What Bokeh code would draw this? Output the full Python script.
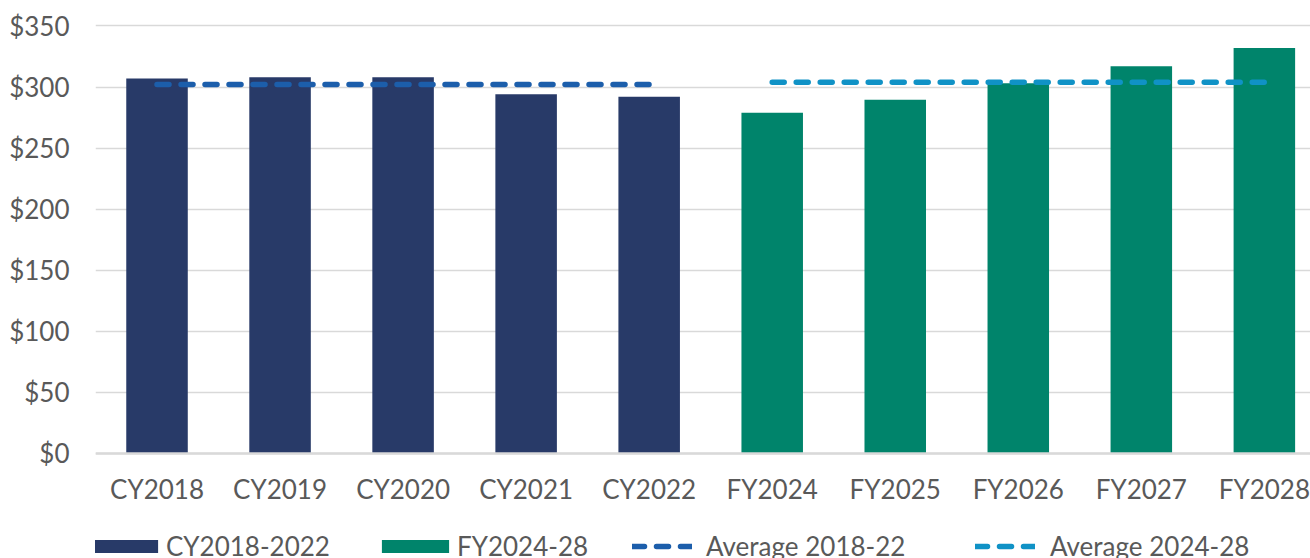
from bokeh.plotting import figure
from bokeh.models import FixedTicker, Legend, LegendItem, Range1d, Span
from bokeh.core.properties import value
from bokeh.embed import file_html
from bokeh.resources import INLINE

categories = ["CY2018", "CY2019", "CY2020", "CY2021", "CY2022",
              "FY2024", "FY2025", "FY2026", "FY2027", "FY2028"]
cy_categories = categories[:5]
fy_categories = categories[5:]
cy_values = [307, 308, 308, 294, 292]
fy_values = [279, 289.5, 303, 317, 332]
avg_2018_22 = 302
avg_2024_28 = 304
y_ticks = [0, 50, 100, 150, 200, 250, 300, 350]
y_tick_labels = ["$0", "$50", "$100", "$150", "$200", "$250", "$300", "$350"]

FONT = "Lato"
TXT = "#595959"
NAVY = "#283a68"
GREEN = "#00846b"
BLUE1 = "#1c5eab"
BLUE2 = "#1092c6"

p = figure(width=1310, height=558, output_backend="svg", toolbar_location=None,
           x_range=Range1d(-0.5, 9.375), y_range=Range1d(-86, 352),
           x_axis_location=None,
           min_border_left=95, min_border_right=0, min_border_top=23, min_border_bottom=0)
p.outline_line_color = None
p.background_fill_color = "white"

idx = {c: i for i, c in enumerate(categories)}
cy_x = [idx[c] for c in cy_categories]
fy_x = [idx[c] for c in fy_categories]

r_cy = p.vbar(x=cy_x, top=cy_values, width=0.5, fill_color=NAVY, line_color=None)
r_fy = p.vbar(x=fy_x, top=fy_values, width=0.5, fill_color=GREEN, line_color=None)

r_a1 = p.line(x=[cy_x[0], cy_x[-1]], y=[avg_2018_22, avg_2018_22], line_color=BLUE1,
              line_width=5.5, line_dash="12 12", line_cap="round")
r_a2 = p.line(x=[fy_x[0], fy_x[-1]], y=[avg_2024_28, avg_2024_28], line_color=BLUE2,
              line_width=5.5, line_dash="12 12", line_cap="round")

# category labels (x axis)
p.text(x=list(range(len(categories))), y=[-29.5] * len(categories), text=categories,
       text_align="center", text_baseline="middle", text_font=value(FONT),
       text_font_size="26px", text_color=TXT)

# y axis
p.yaxis.ticker = FixedTicker(ticks=y_ticks)
p.yaxis.major_label_overrides = {t: l for t, l in zip(y_ticks, y_tick_labels)}
p.yaxis.major_tick_line_color = None
p.yaxis.minor_tick_line_color = None
p.yaxis.major_label_text_font = FONT
p.yaxis.major_label_text_font_size = "26px"
p.yaxis.major_label_text_color = TXT
p.yaxis.axis_line_color = None
p.yaxis.major_label_standoff = 20

p.xgrid.grid_line_color = None
p.ygrid.ticker = FixedTicker(ticks=y_ticks)
p.ygrid.grid_line_color = "#d9d9d9"
p.ygrid.grid_line_width = 1.5
p.add_layout(Span(location=0, dimension="width", line_color="#d9d9d9", line_width=2.5))

def mk_legend(label, rend, loc, gw, gh, standoff):
    lg = Legend(items=[LegendItem(label=label, renderers=[rend])], location=loc,
                glyph_width=gw, glyph_height=gh, label_standoff=standoff,
                label_text_font=FONT, label_text_font_size="26px", label_text_color=TXT,
                padding=0, margin=0, border_line_color=None, background_fill_alpha=0,
                orientation="horizontal")
    p.add_layout(lg, "center")

LY = -4
mk_legend("CY2018-2022", r_cy, (-13, LY), 84, 16, 0)
mk_legend("FY2024-28", r_fy, (278, LY), 84, 16, 0)
mk_legend("Average 2018-22", r_a1, (537, LY), 60, 16, 14)
mk_legend("Average 2024-28", r_a2, (880, LY), 60, 16, 15)

open("out.html", "w").write(file_html(p, INLINE))
